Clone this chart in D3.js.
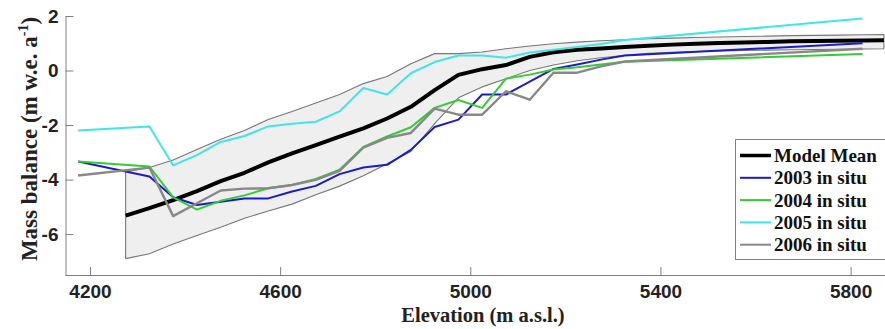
<!DOCTYPE html>
<html>
<head>
<meta charset="utf-8">
<script src="https://cdn.jsdelivr.net/npm/d3@7"></script>
<style>
  html, body { margin: 0; padding: 0; background: #fff; }
  svg { display: block; font-family: "Liberation Serif", "Times New Roman", serif; font-weight: bold; }
</style>
</head>
<body>
<svg id="chart" width="885" height="329"></svg>
<script>
// Elevation bins (m a.s.l.) of the in situ stake measurements
const situElev = [4175, 4325, 4375, 4425, 4475, 4525, 4575, 4625, 4675, 4725, 4775, 4825,
                  4875, 4925, 4975, 5025, 5075, 5125, 5175, 5225, 5275, 5325, 5825];
const situ2003 = [-3.34, -3.89, -4.65, -4.93, -4.81, -4.69, -4.69, -4.44, -4.23, -3.80, -3.56, -3.46,
                  -2.91, -2.07, -1.80, -0.88, -0.88, -0.41, 0.06, 0.22, 0.40, 0.55, 1.00];
const situ2004 = [-3.34, -3.52, -4.65, -5.10, -4.78, -4.58, -4.32, -4.20, -3.98, -3.64, -2.80, -2.42,
                  -2.08, -1.37, -1.08, -1.37, -0.30, -0.15, 0.04, 0.12, 0.22, 0.32, 0.61];
const situ2005 = [-2.20, -2.05, -3.48, -3.10, -2.62, -2.40, -2.05, -1.95, -1.88, -1.50, -0.64, -0.88,
                  -0.10, 0.31, 0.55, 0.55, 0.47, 0.66, 0.76, 0.86, 0.97, 1.12, 1.91];
const situ2006 = [-3.85, -3.56, -5.34, -4.87, -4.40, -4.33, -4.32, -4.20, -4.01, -3.68, -2.83, -2.47,
                  -2.29, -1.40, -1.62, -1.62, -0.76, -1.07, -0.08, -0.08, 0.15, 0.33, 0.80];

// Modelled mass balance profile: mean and min/max envelope
const modelElev  = [4275, 4325, 4375, 4425, 4475, 4525, 4575, 4625, 4675, 4725, 4775, 4825, 4875,
                    4925, 4975, 5025, 5075, 5125, 5175, 5225, 5275, 5325, 5375, 5425, 5475, 5525,
                    5575, 5625, 5675, 5725, 5775, 5825, 5870];
const modelMean  = [-5.32, -5.05, -4.75, -4.42, -4.06, -3.75, -3.37, -3.04, -2.74, -2.42, -2.12, -1.76, -1.33,
                    -0.72, -0.16, 0.05, 0.20, 0.50, 0.67, 0.76, 0.81, 0.86, 0.91, 0.95, 0.98, 1.01,
                    1.03, 1.05, 1.07, 1.08, 1.09, 1.10, 1.11];
const modelUpper = [-3.72, -3.56, -3.28, -2.90, -2.52, -2.20, -1.80, -1.50, -1.19, -0.88, -0.48, -0.22, 0.25,
                    0.62, 0.62, 0.68, 0.80, 0.90, 0.98, 1.04, 1.09, 1.13, 1.17, 1.19, 1.21, 1.23,
                    1.25, 1.26, 1.28, 1.29, 1.30, 1.31, 1.32];
const modelLower = [-6.90, -6.72, -6.36, -6.05, -5.75, -5.42, -5.15, -4.90, -4.56, -4.24, -3.86, -3.42, -2.97,
                    -1.95, -1.00, -0.60, -0.30, 0.00, 0.20, 0.36, 0.47, 0.56, 0.63, 0.67, 0.70, 0.72,
                    0.74, 0.75, 0.76, 0.77, 0.78, 0.79, 0.80];

const xTicks = [4200, 4600, 5000, 5400, 5800];
const yTicks = [-6, -4, -2, 0, 2];

const seriesNames  = ["2003 in situ", "2004 in situ", "2005 in situ", "2006 in situ"];
const seriesValues = [situ2003, situ2004, situ2005, situ2006];
const seriesColors = ["#1c1cc4", "#33cc33", "#40e6e6", "#888888"];

const svg = d3.select("#chart");
const x = d3.scaleLinear().domain([4148.5, 5906]).range([65.5, 901]);
const y = d3.scaleLinear().domain([-7.5, 2]).range([275, 16]);

// envelope band
const band = modelElev.map((e, i) => ({ e, lo: modelLower[i], hi: modelUpper[i] }));
const bandPts = band.map(d => [x(d.e), y(d.hi)])
  .concat(band.slice().reverse().map(d => [x(d.e), y(d.lo)]));
svg.append("path")
  .attr("d", "M" + bandPts.map(p => p.join(",")).join("L") + "Z")
  .attr("fill", "#efefef")
  .attr("stroke", "#777")
  .attr("stroke-width", 1.1)
  .attr("stroke-linejoin", "round");

const line = d3.line().x(d => x(d[0])).y(d => y(d[1]));

// model mean
svg.append("path")
  .attr("d", line(modelElev.map((e, i) => [e, modelMean[i]])))
  .attr("fill", "none").attr("stroke", "#000").attr("stroke-width", 4)
  .attr("stroke-linejoin", "round");

// in situ profiles
seriesValues.forEach((vals, k) => {
  svg.append("path")
    .attr("d", line(situElev.map((e, i) => [e, vals[i]])))
    .attr("fill", "none").attr("stroke", seriesColors[k])
    .attr("stroke-width", k === 3 ? 2.4 : 2).attr("stroke-linejoin", "round");
});

// axes
const axisColor = "#808080";
const gx = svg.append("g").attr("transform", "translate(0,275)")
  .call(d3.axisBottom(x).tickValues(xTicks).tickFormat(d3.format("d"))
        .tickSizeInner(-8).tickSizeOuter(0).tickPadding(10));
const gy = svg.append("g").attr("transform", "translate(65.5,0)")
  .call(d3.axisLeft(y).tickValues(yTicks).tickFormat(d => d < 0 ? "-" + Math.abs(d) : d)
        .tickSizeInner(-8).tickSizeOuter(0).tickPadding(7));
[gx, gy].forEach(g => {
  g.select(".domain").attr("stroke", axisColor);
  g.selectAll(".tick line").attr("stroke", axisColor);
  g.selectAll("text").attr("font-size", 19).attr("font-family", null).attr("fill", "#222");
});
// keep the x-axis line spanning to the frame edge
gx.select(".domain").attr("d", "M65.5,0.5H901");

// axis titles
svg.append("text").attr("x", 483).attr("y", 321.5).attr("text-anchor", "middle")
  .attr("font-size", 20.5).attr("fill", "#222").text("Elevation (m a.s.l.)");
const yt = svg.append("text").attr("transform", "translate(37,139) rotate(-90)")
  .attr("text-anchor", "middle").attr("font-size", 23).attr("fill", "#222");
yt.append("tspan").text("Mass balance (m w.e. a");
yt.append("tspan").attr("dy", -9).attr("font-size", 14).text("-1");
yt.append("tspan").attr("dy", 9).text(")");

// legend
const lg = svg.append("g");
lg.append("rect").attr("x", 735.5).attr("y", 139.5).attr("width", 160).attr("height", 120)
  .attr("fill", "#fff").attr("stroke", "#808080");
const legNames = ["Model Mean"].concat(seriesNames);
const legColors = ["#000"].concat(seriesColors);
legNames.forEach((n, i) => {
  const yy = 155.5 + i * 22.3;
  lg.append("line").attr("x1", 740).attr("x2", 771).attr("y1", yy).attr("y2", yy)
    .attr("stroke", legColors[i]).attr("stroke-width", i === 0 ? 3.5 : 2);
  lg.append("text").attr("x", 774).attr("y", yy).attr("dy", "0.35em")
    .attr("font-size", 19).attr("fill", "#111").text(n);
});
</script>
</body>
</html>
